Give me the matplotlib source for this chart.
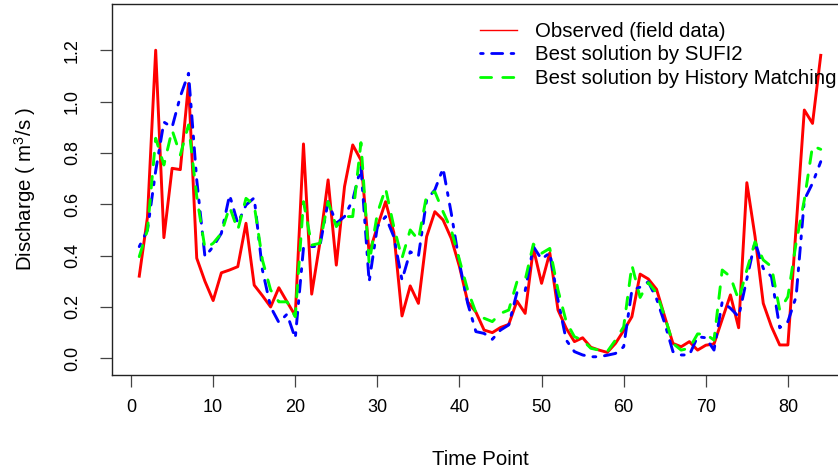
import matplotlib
matplotlib.use("Agg")
import matplotlib.pyplot as plt
import numpy as np
from matplotlib.lines import Line2D

plt.rcParams['font.family'] = ['Liberation Sans', 'DejaVu Sans']
plt.rcParams['mathtext.fontset'] = 'custom'
plt.rcParams['mathtext.rm'] = 'Liberation Sans'
plt.rcParams['mathtext.it'] = 'Liberation Sans'

time_points = list(range(1, 85))

observed = [0.32, 0.55, 1.20, 0.47, 0.74, 0.735, 1.07, 0.39, 0.30, 0.225,
            0.333, 0.344, 0.357, 0.526, 0.285, 0.244, 0.20, 0.275, 0.22, 0.166,
            0.835, 0.25, 0.45, 0.695, 0.363, 0.669, 0.831, 0.772, 0.409, 0.513,
            0.61, 0.49, 0.165, 0.282, 0.214, 0.474, 0.571, 0.539, 0.467, 0.357,
            0.22, 0.18, 0.11, 0.10, 0.12, 0.132, 0.223, 0.175, 0.428, 0.292,
            0.411, 0.188, 0.117, 0.065, 0.08, 0.043, 0.032, 0.023, 0.058, 0.108,
            0.162, 0.328, 0.309, 0.269, 0.162, 0.058, 0.045, 0.065, 0.032, 0.051,
            0.056, 0.152, 0.247, 0.119, 0.684, 0.474, 0.214, 0.123, 0.052, 0.052,
            0.51, 0.967, 0.915, 1.18]

sufi2 = [0.435, 0.50, 0.73, 0.92, 0.90, 1.02, 1.11, 0.695, 0.396, 0.435,
         0.487, 0.636, 0.526, 0.597, 0.625, 0.344, 0.20, 0.14, 0.172, 0.078,
         0.43, 0.435, 0.437, 0.61, 0.526, 0.552, 0.617, 0.745, 0.298, 0.513,
         0.552, 0.474, 0.305, 0.415, 0.398, 0.617, 0.656, 0.74, 0.565, 0.37,
         0.214, 0.104, 0.097, 0.074, 0.11, 0.13, 0.256, 0.263, 0.435, 0.386,
         0.411, 0.227, 0.071, 0.026, 0.013, 0.006, 0.006, 0.012, 0.019, 0.045,
         0.266, 0.277, 0.298, 0.232, 0.136, 0.026, 0.013, 0.013, 0.084, 0.08,
         0.032, 0.22, 0.195, 0.162, 0.31, 0.454, 0.35, 0.318, 0.119, 0.143,
         0.24, 0.617, 0.682, 0.766]

history_matching = [0.396, 0.50, 0.857, 0.753, 0.889, 0.792, 0.909, 0.63, 0.428, 0.448,
                    0.487, 0.59, 0.50, 0.623, 0.597, 0.383, 0.266, 0.22, 0.22, 0.162,
                    0.61, 0.441, 0.448, 0.61, 0.513, 0.552, 0.552, 0.84, 0.37, 0.565,
                    0.662, 0.513, 0.39, 0.50, 0.461, 0.636, 0.649, 0.571, 0.50, 0.383,
                    0.266, 0.178, 0.156, 0.143, 0.175, 0.188, 0.298, 0.305, 0.445, 0.409,
                    0.428, 0.266, 0.143, 0.084, 0.071, 0.039, 0.032, 0.026, 0.071, 0.123,
                    0.363, 0.237, 0.295, 0.255, 0.162, 0.058, 0.032, 0.039, 0.095, 0.094,
                    0.071, 0.344, 0.318, 0.227, 0.344, 0.454, 0.383, 0.357, 0.188, 0.24,
                    0.45, 0.617, 0.827, 0.814]

labels = ["Observed (field data)", "Best solution by SUFI2",
          "Best solution by History Matching"]
x_ticks = [0, 10, 20, 30, 40, 50, 60, 70, 80]
y_ticks = [0.0, 0.2, 0.4, 0.6, 0.8, 1.0, 1.2]
y_tick_labels = ["0.0", "0.2", "0.4", "0.6", "0.8", "1.0", "1.2"]

W, H = 838, 473
fig = plt.figure(figsize=(W / 100, H / 100), dpi=100)
left, right, bottom, top = 112, 848, 375, 4
ax = fig.add_axes([left / W, 1 - bottom / H, (right - left) / W, (bottom - top) / H])

lw = 2.1
ax.plot(time_points, observed, color='#FF0000', lw=lw, solid_joinstyle='round')
ax.plot(time_points, sufi2, color='#0000FF', lw=lw, dashes=(1, 3, 4, 3),
        dash_capstyle='round', dash_joinstyle='round')
ax.plot(time_points, history_matching, color='#00FF00', lw=lw, dashes=(4, 4),
        dash_capstyle='round', dash_joinstyle='round')

ax.set_xlim(-2.32, 87.32)
ax.set_ylim(-0.065, 1.380)
ax.set_xticks(x_ticks)
ax.set_xticklabels([str(v) for v in x_ticks])
ax.set_yticks(y_ticks)
ax.set_yticklabels(y_tick_labels, rotation=90, va='center')

for s in ax.spines.values():
    s.set_linewidth(1.0)
    s.set_color('#222222')
ax.tick_params(axis='both', length=8.5, width=0.9, color='#444444', labelsize=13)
ax.tick_params(axis='x', pad=9)
ax.tick_params(axis='y', pad=14)

fig.text(480 / W, 1 - 459 / H, "Time Point", ha='center', va='center', fontsize=14.7)
fig.text(25 / W, 1 - 189 / H, r"Discharge ( m$^{3}$/s )", ha='center', va='center',
         rotation=90, fontsize=14.7)

handles = [Line2D([], [], color='#FF0000', lw=1.0),
           Line2D([], [], color='#0000FF', lw=2.0, dashes=(1, 3, 4, 3), dash_capstyle='round'),
           Line2D([], [], color='#00FF00', lw=2.0, dashes=(4, 4), dash_capstyle='round')]
leg = ax.legend(handles, labels, loc='upper left',
                bbox_to_anchor=(480 / W, 1 - 22 / H), bbox_transform=fig.transFigure,
                frameon=False, fontsize=14.7, handlelength=1.8, handletextpad=0.9,
                labelspacing=0.22, borderpad=0, borderaxespad=0)

fig.savefig("out.png", dpi=100, facecolor='white')
